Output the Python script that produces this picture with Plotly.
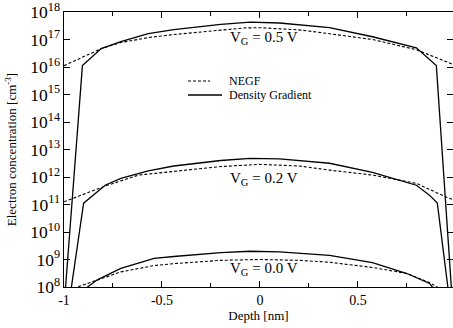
import plotly.graph_objects as go

# ---- data (depth in nm, log10 of electron concentration in cm^-3) ----
negf05_x = [-1.0, -0.9, -0.81, -0.71, -0.57, -0.44, -0.22, -0.08, 0.0, 0.2, 0.355, 0.574, 0.798, 0.967, 1.0]
negf05_log = [16.05, 16.37, 16.67, 16.89, 17.07, 17.18, 17.33, 17.42, 17.43, 17.35, 17.21, 17.0, 16.63, 16.15, 16.05]

dg05_x = [-1.0, -0.906, -0.81, -0.71, -0.57, -0.44, -0.2, -0.05, 0.1, 0.355, 0.574, 0.798, 0.9, 0.985]
dg05_log = [7.25, 16.05, 16.67, 16.92, 17.21, 17.36, 17.55, 17.63, 17.6, 17.43, 17.1, 16.7, 16.05, 7.1]

negf02_x = [-1.0, -0.9, -0.79, -0.62, -0.44, -0.2, 0.0, 0.2, 0.355, 0.574, 0.798, 0.95, 1.0]
negf02_log = [11.1, 11.38, 11.67, 12.07, 12.21, 12.38, 12.46, 12.4, 12.25, 12.07, 11.77, 11.27, 11.14]

dg02_x = [-1.0, -0.9, -0.79, -0.71, -0.57, -0.44, -0.2, -0.05, 0.1, 0.355, 0.574, 0.798, 0.865, 0.905, 0.985]
dg02_log = [6.14, 11.05, 11.7, 11.95, 12.22, 12.4, 12.6, 12.68, 12.66, 12.5, 12.17, 11.7, 11.34, 11.05, 6.5]

negf00_x = [-1.0, -0.93, -0.83, -0.71, -0.54, -0.44, -0.2, 0.0, 0.2, 0.355, 0.574, 0.75, 0.865, 0.905, 1.0]
negf00_log = [7.83, 8.0, 8.26, 8.55, 8.78, 8.85, 8.97, 9.0, 8.97, 8.9, 8.71, 8.49, 8.16, 8.0, 7.5]

dg00_x = [-1.0, -0.906, -0.88, -0.83, -0.71, -0.54, -0.44, -0.2, -0.05, 0.1, 0.355, 0.574, 0.75, 0.865, 0.88, 0.905, 0.985]
dg00_log = [3.0, 7.85, 8.0, 8.26, 8.68, 9.04, 9.11, 9.25, 9.3, 9.28, 9.15, 8.89, 8.49, 8.13, 8.0, 7.9, 3.0]

x_tickvals = [-1, -0.5, 0, 0.5]
x_ticktext = ["-1", "-0.5", "0", "0.5"]
gate_labels = ["V<sub>G</sub> = 0.5 V", "V<sub>G</sub> = 0.2 V", "V<sub>G</sub> = 0.0 V"]
gate_label_log = [17.05, 11.92, 8.64]
legend_names = ["NEGF", "Density Gradient"]

FONT = "Liberation Serif"

L, T, R, B = 64, 12, 0, 41
W, H = 453, 328

fig = go.Figure()
dashed = dict(color="black", width=1.1, dash="3px,2px")
solid = dict(color="black", width=1.3)
for xs, ls in [(negf05_x, negf05_log), (negf02_x, negf02_log), (negf00_x, negf00_log)]:
    fig.add_trace(go.Scatter(x=xs, y=[10 ** v for v in ls], mode="lines", line=dashed,
                             showlegend=False, hoverinfo="skip"))
for xs, ls in [(dg05_x, dg05_log), (dg02_x, dg02_log), (dg00_x, dg00_log)]:
    fig.add_trace(go.Scatter(x=xs, y=[10 ** v for v in ls], mode="lines", line=solid,
                             showlegend=False, hoverinfo="skip"))
fig.add_trace(go.Scatter(x=[0], y=[1e10], yaxis="y2", mode="markers",
                         marker=dict(size=0, opacity=0), showlegend=False, hoverinfo="skip"))

fig.update_layout(
    width=W, height=H,
    margin=dict(l=L, r=R, t=T, b=B),
    paper_bgcolor="white", plot_bgcolor="white",
    font=dict(family=FONT, color="black", size=12),
    xaxis=dict(range=[-1, 0.985], showline=True, linecolor="black", linewidth=1.2,
               mirror="ticks", ticks="inside", ticklen=6, tickwidth=1, tickcolor="black",
               tickvals=x_tickvals, ticktext=x_ticktext, showgrid=False, zeroline=False,
               automargin=False, ticklabeloverflow="allow",
               tickfont=dict(family=FONT, size=14),
               minor=dict(tickvals=[-0.75, -0.25, 0.25, 0.75], ticks="inside", ticklen=4,
                          tickcolor="black"),
               title=dict(text="Depth [nm]", font=dict(family=FONT, size=13),
                          standoff=2)),
    yaxis=dict(type="log", range=[8, 18], showline=True, linecolor="black", linewidth=1.2,
               ticks="inside", ticklen=6, tickcolor="black", dtick=1,
               exponentformat="power", showgrid=False, zeroline=False, automargin=False,
               ticklabeloverflow="allow",
               tickfont=dict(family=FONT, size=14),
               title=dict(text="Electron concentration [cm<sup>-3</sup>]",
                          font=dict(family=FONT, size=13), standoff=10)),
    yaxis2=dict(type="log", range=[8, 18], overlaying="y", side="right", showline=False,
                ticks="inside", ticklen=6, tickcolor="black", dtick=1, showticklabels=False,
                showgrid=False, zeroline=False, automargin=False),
)

for txt, lv in zip(gate_labels, gate_label_log):
    fig.add_annotation(x=0.02, y=lv, text=txt, showarrow=False,
                       font=dict(family=FONT, size=15))

pw = W - L - R
ph = H - T - B

def px2paper_x(px):
    return (px - L) / pw

def px2paper_y(py):
    return 1 - (py - T) / ph

legend_rows = [81, 95]
fig.add_shape(type="line", xref="paper", yref="paper",
              x0=px2paper_x(188), x1=px2paper_x(210), y0=px2paper_y(legend_rows[0]),
              y1=px2paper_y(legend_rows[0]), line=dashed)
fig.add_shape(type="line", xref="paper", yref="paper",
              x0=px2paper_x(188), x1=px2paper_x(222), y0=px2paper_y(legend_rows[1]),
              y1=px2paper_y(legend_rows[1]), line=solid)
for name, py in zip(legend_names, legend_rows):
    fig.add_annotation(xref="paper", yref="paper", x=px2paper_x(228), y=px2paper_y(py),
                       text=name, showarrow=False, xanchor="left", yanchor="middle",
                       borderpad=0, font=dict(family=FONT, size=12))

fig.write_html("out.html", config={"displayModeBar": False},
               post_script="document.body.style.margin='0px';")
